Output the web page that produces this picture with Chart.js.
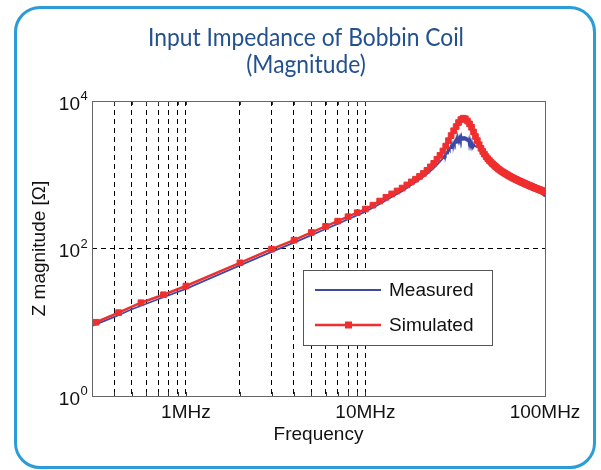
<!DOCTYPE html>
<html>
<head>
<meta charset="utf-8">
<script src="https://cdn.jsdelivr.net/npm/chart.js@4.4.1/dist/chart.umd.min.js"></script>
<style>
html, body { margin: 0; padding: 0; background: #fff; }
#wrap { position: relative; width: 601px; height: 470px; overflow: hidden; }
#frame { position: absolute; left: 14px; top: 6px; width: 582px; height: 463px; box-sizing: border-box; border: 3px solid #2b9cd8; border-radius: 26px; }
canvas { position: absolute; left: 0; top: 0; }
</style>
</head>
<body>
<div id="wrap"><div id="frame"></div><canvas id="myChart" width="601" height="470"></canvas></div>
<script>
var titleLines = ['Input Impedance of Bobbin Coil', '(Magnitude)'];

// frequencies in MHz, impedance in ohms
var simFreq = [0.316, 0.422, 0.562, 0.75,
  1, 2, 3, 4, 5, 6, 7, 8, 9, 10,
  11, 12, 13, 14, 15, 16, 17, 18, 19, 20,
  21, 22, 23, 24, 25, 26, 27, 28, 29, 30,
  31, 32, 33, 34, 35, 36, 37, 38, 39, 40,
  41, 42, 43, 44, 45, 46, 47, 48, 49, 50,
  51, 52, 53, 54, 55, 56, 57, 58, 59, 60,
  61, 62, 63, 64, 65, 66, 67, 68, 69, 70,
  71, 72, 73, 74, 75, 76, 77, 78, 79, 80,
  81, 82, 83, 84, 85, 86, 87, 88, 89, 90,
  91, 92, 93, 94, 95, 96, 97, 98, 99, 100];
var simZ = [10.0, 13.5, 18.4, 23.6,
  31, 64, 98, 130, 165, 200, 235, 270, 306, 343,
  387, 440, 495, 550, 603, 660, 728, 800, 870, 950,
  1040, 1150, 1280, 1430, 1620, 1830, 2100, 2450, 2900, 3400,
  3950, 4500, 5100, 5600, 5850, 5750, 5350, 4900, 4400, 3800,
  3300, 2900, 2550, 2280, 2070, 1900, 1760, 1650, 1560, 1480,
  1410, 1350, 1295, 1245, 1200, 1160, 1125, 1095, 1065, 1040,
  1015, 990, 968, 948, 928, 910, 893, 877, 862, 848,
  834, 821, 808, 796, 784, 773, 762, 751, 741, 731,
  721, 712, 703, 694, 686, 678, 670, 662, 655, 648,
  641, 634, 628, 621, 615, 609, 603, 597, 592, 587];

// measured trace, noisy around the resonance
var measFreq = [0.3, 0.4, 0.5, 0.7, 1, 1.5, 2, 3, 4, 5, 6, 7, 8, 10, 12, 14, 16, 18, 20, 22, 24, 25, 26,
  27, 27.25, 27.5, 27.75, 28, 28.25, 28.5, 28.75, 29, 29.25, 29.5, 29.75,
  30, 30.25, 30.5, 30.75, 31, 31.25, 31.5, 31.75, 32, 32.25, 32.5, 32.75,
  33, 33.25, 33.5, 33.75, 34, 34.25, 34.5, 34.75, 35, 35.25, 35.5, 35.75,
  36, 36.25, 36.5, 36.75, 37, 37.25, 37.5, 37.75, 38, 38.25, 38.5, 38.75,
  39, 39.25, 39.5, 39.75, 40, 40.5, 41, 42, 43, 44, 45, 46, 48, 50,
  55, 60, 65, 70, 75, 80, 85, 90, 95, 100];
var measZ = [8.9, 11.8, 15.0, 20.5, 28.4, 43.5, 59, 90, 120, 152, 184, 216, 249, 316, 402, 500, 600, 725, 860, 1025, 1235, 1360, 1500,
  1670, 1760, 1700, 1880, 1820, 2000, 1930, 2140, 2060, 2250, 2160, 2400,
  2290, 2520, 2400, 2650, 2520, 2770, 2600, 2880, 2700, 2980, 2760, 3080,
  2840, 3150, 2900, 3220, 2950, 3280, 2980, 3320, 3000, 3330, 3000, 3310,
  2970, 3270, 2920, 3200, 2860, 3120, 2780, 3020, 2700, 2900, 2620, 2790,
  2540, 2680, 2460, 2580, 2390, 2530, 2420, 2400, 2280, 2130, 1980, 1830, 1590, 1420,
  1150, 995, 885, 808, 745, 692, 645, 602, 560, 508];

var xTicks = [0.4, 0.5, 0.6, 0.7, 0.8, 0.9, 1, 2, 3, 4, 5, 6, 7, 8, 9, 10, 100];
var xTickText = ['', '', '', '', '', '', '1MHz', '', '', '', '', '', '', '', '', '10MHz', '100MHz'];
var yTicks = [1, 100, 10000];

function pts(xs, ys) {
  return xs.map(function (v, i) { return { x: v, y: ys[i] }; });
}

var extras = {
  id: 'extras',
  beforeDraw: function (chart) {
    // condensed two-line title, centred in the frame
    var ctx = chart.ctx;
    ctx.save();
    ctx.fillStyle = '#23508f';
    ctx.textAlign = 'center';
    ctx.textBaseline = 'alphabetic';
    ctx.font = '25px Lato, "Liberation Sans", sans-serif';
    var sx = 316 / ctx.measureText(titleLines[0]).width;
    ctx.translate(306, 0);
    ctx.scale(sx, 1);
    ctx.fillText(titleLines[0], 0, 45.7);
    ctx.fillText(titleLines[1], 0, 73.3);
    ctx.restore();
  },
  afterDraw: function (chart) {
    var ctx = chart.ctx, a = chart.chartArea, xs = chart.scales.x, ys = chart.scales.y;
    ctx.save();
    // inward tick marks like the original
    ctx.strokeStyle = '#333';
    ctx.lineWidth = 1;
    xs.ticks.forEach(function (t) {
      var px = Math.round(xs.getPixelForValue(t.value)) + 0.5;
      ctx.beginPath();
      ctx.moveTo(px, a.bottom); ctx.lineTo(px, a.bottom - 4);
      ctx.moveTo(px, a.top); ctx.lineTo(px, a.top + 4);
      ctx.stroke();
    });
    // plot box
    ctx.strokeStyle = '#666';
    ctx.strokeRect(Math.round(a.left) + 0.5, Math.round(a.top) + 0.5, Math.round(a.right - a.left), Math.round(a.bottom - a.top));
    // y tick labels with exponents
    ctx.fillStyle = '#111';
    ctx.textBaseline = 'middle';
    ys.ticks.forEach(function (t) {
      var py = ys.getPixelForValue(t.value);
      ctx.font = '19px "Liberation Sans", Arial, sans-serif';
      ctx.textAlign = 'right';
      ctx.fillText('10', 80, py + 3.7);
      ctx.font = '13px "Liberation Sans", Arial, sans-serif';
      ctx.textAlign = 'left';
      ctx.fillText(String(Math.round(Math.log10(t.value))), 80.5, py - 4.2);
    });
    // legend box
    var lx = 303, ly = 270, lw = 189, lh = 75;
    ctx.fillStyle = '#fff';
    ctx.fillRect(lx, ly, lw, lh);
    ctx.strokeStyle = '#555';
    ctx.strokeRect(lx + 0.5, ly + 0.5, lw, lh);
    var rows = [290, 325];
    chart.data.datasets.forEach(function (ds, i) {
      var ry = rows[i];
      ctx.strokeStyle = ds.borderColor;
      ctx.lineWidth = ds.borderWidth;
      ctx.beginPath();
      ctx.moveTo(315, ry); ctx.lineTo(381, ry);
      ctx.stroke();
      if (ds.pointRadius > 0) {
        ctx.fillStyle = ds.pointBackgroundColor;
        ctx.fillRect(345, ry - 3.5, 7, 7);
      }
      ctx.fillStyle = '#111';
      ctx.font = '19px "Liberation Sans", Arial, sans-serif';
      ctx.textAlign = 'left';
      ctx.textBaseline = 'middle';
      ctx.fillText(ds.label, 389, ry + 1);
    });
    ctx.restore();
  }
};

var ctx = document.getElementById('myChart').getContext('2d');
var impChart = new Chart(ctx, {
  type: 'line',
  data: {
    datasets: [{
      label: 'Measured',
      data: pts(measFreq, measZ),
      borderColor: '#3c4aa6',
      borderWidth: 1.8,
      pointRadius: 0,
      order: 1
    }, {
      label: 'Simulated',
      data: pts(simFreq, simZ),
      borderColor: '#ef2f2f',
      backgroundColor: '#ef2f2f',
      pointBackgroundColor: '#ef2f2f',
      pointBorderColor: '#ef2f2f',
      borderWidth: 2.5,
      pointStyle: 'rect',
      pointRadius: 4,
      pointBorderWidth: 1,
      order: 0
    }]
  },
  options: {
    responsive: false,
    animation: false,
    devicePixelRatio: 1,
    layout: { padding: { left: 0, right: 56, top: 101, bottom: 0 } },
    plugins: {
      legend: { display: false },
      tooltip: { enabled: false },
      title: { display: false }
    },
    scales: {
      x: {
        type: 'logarithmic',
        min: 0.3,
        max: 100,
        afterBuildTicks: function (scale) {
          scale.ticks = xTicks.map(function (v) { return { value: v }; });
        },
        afterFit: function (scale) { scale.height = 74; },
        ticks: {
          autoSkip: false,
          maxRotation: 0,
          padding: 5,
          color: '#111',
          font: { family: '"Liberation Sans", Arial, sans-serif', size: 19 },
          callback: function (v, i) { return xTickText[i]; }
        },
        grid: {
          drawTicks: false,
          lineWidth: 1,
          color: function (c) { return (c.tick && c.tick.value === 100) ? 'rgba(0,0,0,0)' : '#000'; }
        },
        border: { display: false, dash: [5, 4] },
        title: {
          display: true,
          text: 'Frequency',
          color: '#111',
          font: { family: '"Liberation Sans", Arial, sans-serif', size: 19 },
          padding: { top: 0, bottom: 24.3 }
        }
      },
      y: {
        type: 'logarithmic',
        min: 1,
        max: 10000,
        afterBuildTicks: function (scale) {
          scale.ticks = yTicks.map(function (v) { return { value: v }; });
        },
        afterFit: function (scale) { scale.width = 92; },
        ticks: { display: false },
        grid: {
          drawTicks: false,
          lineWidth: 1,
          color: function (c) { return (c.tick && c.tick.value === 100) ? '#000' : 'rgba(0,0,0,0)'; }
        },
        border: { display: false, dash: [5, 4] },
        title: {
          display: true,
          text: 'Z magnitude [\u03A9]',
          color: '#111',
          font: { family: '"Liberation Sans", Arial, sans-serif', size: 19 },
          padding: { top: 28.1, bottom: 0 }
        }
      }
    }
  },
  plugins: [extras]
});
</script>
</body>
</html>
